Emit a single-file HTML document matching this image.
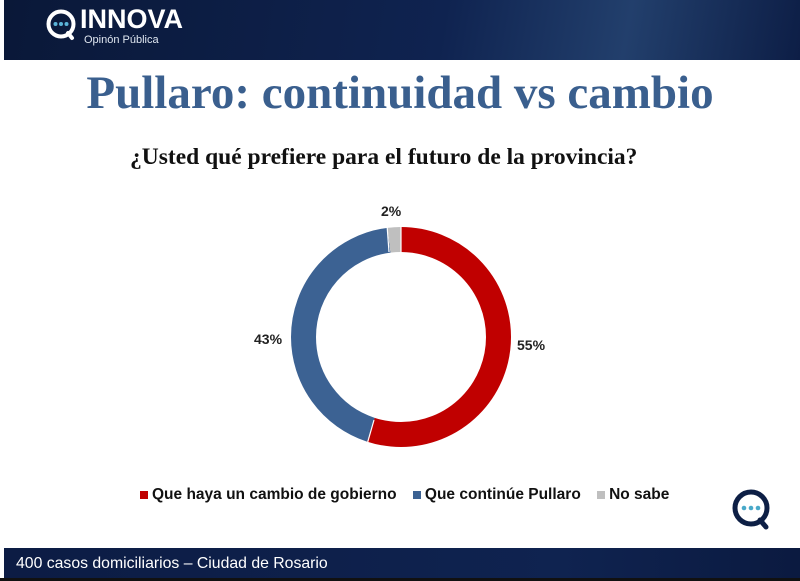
<!DOCTYPE html>
<html><head><meta charset="utf-8"><style>
body{margin:0;width:800px;height:581px;overflow:hidden;background:#fff;font-family:"Liberation Sans",sans-serif;position:relative}
.hdr{position:absolute;left:4px;top:0;width:796px;height:60px;background:linear-gradient(100deg,#0a1838 0%,#0f2350 55%,#223f6c 78%,#0d1e46 100%)}
.ftr{position:absolute;left:4px;top:548px;width:796px;height:30px;background:linear-gradient(90deg,#0c1c44,#0f2350 70%,#0b1a40)}
.blk{position:absolute;left:0;top:578px;width:800px;height:3px;background:#111}
.t{position:absolute;white-space:nowrap}
</style></head><body>
<div class="hdr"></div>
<svg class="t" style="left:44px;top:7px" width="40" height="40" viewBox="0 0 40 40">
<circle cx="17" cy="17" r="12.5" fill="none" stroke="#fff" stroke-width="4"/>
<line x1="24" y1="26" x2="28" y2="31" stroke="#fff" stroke-width="4" stroke-linecap="round"/>
<circle cx="11.5" cy="17" r="2" fill="#5ab4d8"/><circle cx="17" cy="17" r="2" fill="#5ab4d8"/><circle cx="22.5" cy="17" r="2" fill="#5ab4d8"/>
</svg>
<div class="t" style="left:80px;top:4px;color:#fff;font-size:27px;font-weight:bold">INNOVA</div>
<div class="t" style="left:84px;top:34px;color:#dfe6f0;font-size:11px">Opinón Pública</div>
<div class="t" style="left:0;width:800px;text-align:center;top:66px;color:#3a5f8e;font-family:'Liberation Serif',serif;font-weight:bold;font-size:47px">Pullaro: continuidad vs cambio</div>
<div class="t" style="left:130px;top:144px;color:#111;font-family:'Liberation Serif',serif;font-weight:bold;font-size:23.5px">¿Usted qué prefiere para el futuro de la provincia?</div>
<svg class="t" style="left:0;top:0" width="800" height="581">
<g transform="rotate(-90 401 337)" fill="none" stroke-width="25">
<circle cx="401" cy="337" r="97.5" stroke="#c00000" stroke-dasharray="336.9 1000"/>
<circle cx="401" cy="337" r="97.5" stroke="#3c6293" stroke-dasharray="0 336.9 263.4 1000"/>
<circle cx="401" cy="337" r="97.5" stroke="#bfbfbf" stroke-dasharray="0 600.3 12.3 1000"/>
</g>
<g stroke="#fff" stroke-width="1.2">
<line x1="401" y1="225" x2="401" y2="252"/>
<line x1="366" y1="448" x2="374" y2="420"/>
<line x1="387" y1="225" x2="389" y2="252"/>
</g>
</svg>
<div class="t" style="left:381px;top:203px;font-size:14px;font-weight:bold;color:#222">2%</div>
<div class="t" style="left:254px;top:331px;font-size:14px;font-weight:bold;color:#222">43%</div>
<div class="t" style="left:517px;top:337px;font-size:14px;font-weight:bold;color:#222">55%</div>
<div class="t" style="left:140px;top:486px;font-size:15.5px;font-weight:bold;color:#111">
<span style="display:inline-block;width:8px;height:8px;background:#c00000;margin-right:4px"></span>Que haya un cambio de gobierno
<span style="display:inline-block;width:8px;height:8px;background:#3c6293;margin:0 4px 0 12px"></span>Que continúe Pullaro
<span style="display:inline-block;width:8px;height:8px;background:#bfbfbf;margin:0 4px 0 12px"></span>No sabe</div>
<svg class="t" style="left:730px;top:487px" width="46" height="46" viewBox="0 0 46 46">
<circle cx="21" cy="21" r="16" fill="none" stroke="#0d1f45" stroke-width="5"/>
<line x1="30" y1="33" x2="36" y2="40" stroke="#0d1f45" stroke-width="5" stroke-linecap="round"/>
<circle cx="14" cy="21" r="2.3" fill="#49a9c9"/><circle cx="21" cy="21" r="2.3" fill="#49a9c9"/><circle cx="28" cy="21" r="2.3" fill="#49a9c9"/>
</svg>
<div class="ftr"></div>
<div class="t" style="left:16px;top:555px;color:#fff;font-size:15.8px">400 casos domiciliarios – Ciudad de Rosario</div>
<div class="blk"></div>
</body></html>
